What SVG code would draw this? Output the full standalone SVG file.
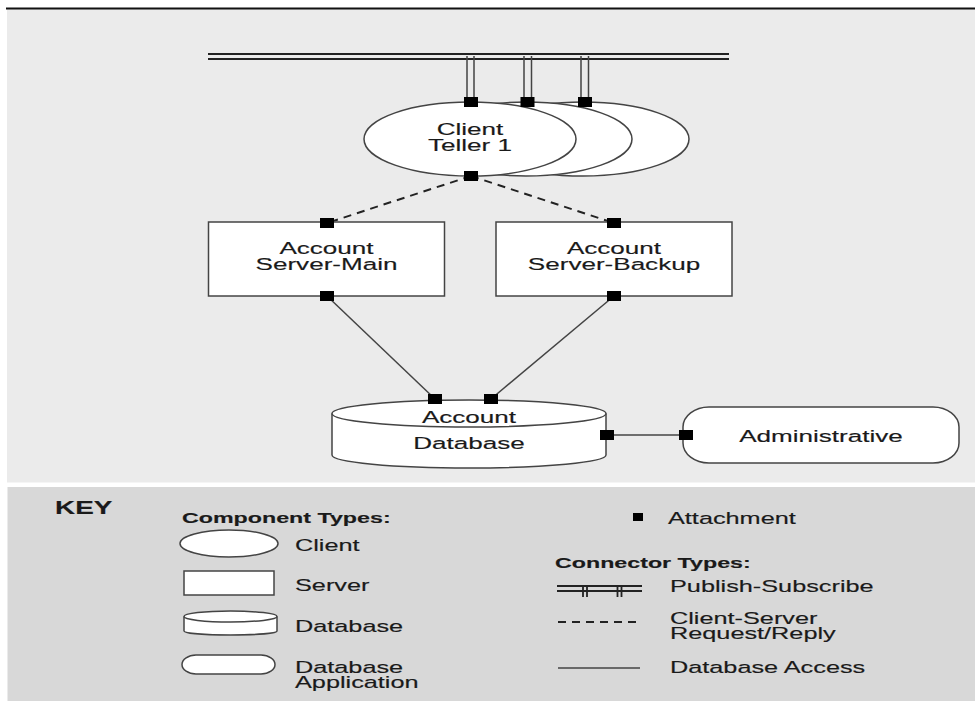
<svg xmlns="http://www.w3.org/2000/svg" width="975" height="701" viewBox="0 0 975 701">
<style>
.t{font-family:"Liberation Sans",Arial,Helvetica,sans-serif;font-size:16.5px;fill:#1a1a1a;stroke:#1a1a1a;stroke-width:0.15}
.c{text-anchor:middle}
.k{font-size:16px}
.b{font-weight:bold;font-size:15px}
.shape{fill:#fff;stroke:#444;stroke-width:1.5}
.cs{stroke:#222;stroke-width:2;stroke-dasharray:8 6;fill:none}
.da{stroke:#444;stroke-width:1.5;fill:none}
.ps{stroke:#222;stroke-width:1.8;fill:none}
.pv{stroke:#444;stroke-width:1.5;fill:none}
.tk{stroke:#222;stroke-width:1.8;fill:none}
</style>
<defs>
<rect id="att" x="-7" y="-5" width="14" height="10" fill="#000"/>
</defs>
<rect x="0" y="0" width="975" height="701" fill="#fff"/>
<rect x="7" y="9" width="968" height="473.5" fill="#ebebeb"/>
<line x1="6" y1="8.5" x2="975" y2="8.5" stroke="#111" stroke-width="2"/>
<rect x="7.5" y="487" width="967.5" height="214" fill="#d8d8d8"/>

<g id="connectors">
<line class="ps" x1="208" y1="54" x2="729" y2="54"/>
<line class="ps" x1="208" y1="59" x2="729" y2="59"/>
<path class="pv" d="M467,56V97M474,56V97M524,56V97M531.5,56V97M581,56V97M588.5,56V97"/>
<line class="cs" x1="471" y1="176" x2="327" y2="223"/>
<line class="cs" x1="471" y1="176" x2="614" y2="223"/>
<line class="da" x1="327" y1="296" x2="435" y2="399"/>
<line class="da" x1="614" y1="296" x2="491" y2="399"/>
<line class="da" x1="607" y1="435" x2="686" y2="435"/>
</g>

<g id="client3"><ellipse class="shape" cx="583" cy="139" rx="106" ry="37"/></g>
<g id="client2"><ellipse class="shape" cx="526" cy="139" rx="106" ry="37"/></g>
<g id="client1">
<ellipse class="shape" cx="470" cy="139" rx="106" ry="37"/>
<text class="t c" transform="matrix(1.58 0 0 1 470 135)">Client</text>
<text class="t c" transform="matrix(1.58 0 0 1 470 151)">Teller 1</text>
</g>

<g id="server-main">
<rect class="shape" x="208.5" y="222" width="236" height="74"/>
<text class="t c" transform="matrix(1.58 0 0 1 326.5 254)">Account</text>
<text class="t c" transform="matrix(1.58 0 0 1 326.5 270)">Server-Main</text>
</g>
<g id="server-backup">
<rect class="shape" x="496" y="222" width="236" height="74"/>
<text class="t c" transform="matrix(1.58 0 0 1 614 254)">Account</text>
<text class="t c" transform="matrix(1.58 0 0 1 614 270)">Server-Backup</text>
</g>

<g id="database">
<path class="shape" d="M332,413.5V455A137,13 0 0 0 606,455V413.5"/>
<ellipse class="shape" cx="469" cy="413.5" rx="137" ry="13.5"/>
<text class="t c" transform="matrix(1.58 0 0 1 469 423)">Account</text>
<text class="t c" transform="matrix(1.58 0 0 1 469 449)">Database</text>
</g>

<g id="administrative">
<rect class="shape" x="683" y="407" width="276" height="56" rx="26" ry="20"/>
<text class="t c" transform="matrix(1.58 0 0 1 821 442)">Administrative</text>
</g>

<g id="attachments">
<use href="#att" x="471" y="102"/>
<use href="#att" x="527.5" y="102"/>
<use href="#att" x="585" y="102"/>
<use href="#att" x="471" y="176"/>
<use href="#att" x="327" y="223"/>
<use href="#att" x="327" y="296"/>
<use href="#att" x="614" y="223"/>
<use href="#att" x="614" y="296"/>
<use href="#att" x="435" y="399"/>
<use href="#att" x="491" y="399"/>
<use href="#att" x="607" y="435"/>
<use href="#att" x="686" y="435"/>
</g>

<g id="key">
<text class="t" style="font-weight:bold;font-size:18px" transform="matrix(1.55 0 0 1 55 514)">KEY</text>
<text class="t b" transform="matrix(1.55 0 0 1 182 523)">Component Types:</text>
<ellipse class="shape" cx="229" cy="543.5" rx="49" ry="13.5"/>
<text class="t k" transform="matrix(1.58 0 0 1 295 551)">Client</text>
<rect class="shape" x="184" y="571" width="90" height="24"/>
<text class="t k" transform="matrix(1.58 0 0 1 295 591)">Server</text>
<path class="shape" d="M184,616.5V631A46.5,4 0 0 0 277,631V616.5"/>
<ellipse class="shape" cx="230.5" cy="616.5" rx="46.5" ry="5.5"/>
<text class="t k" transform="matrix(1.58 0 0 1 295 632)">Database</text>
<rect class="shape" x="182" y="655" width="93" height="19" rx="14" ry="9.5"/>
<text class="t k" transform="matrix(1.58 0 0 1 295 673)">Database</text>
<text class="t k" transform="matrix(1.58 0 0 1 295 688)">Application</text>

<rect x="633" y="513" width="10" height="8" fill="#000"/>
<text class="t k" transform="matrix(1.58 0 0 1 668 524)">Attachment</text>
<text class="t b" transform="matrix(1.55 0 0 1 555 568)">Connector Types:</text>
<line class="ps" x1="557" y1="586" x2="642" y2="586"/>
<line class="ps" x1="557" y1="591" x2="642" y2="591"/>
<path class="tk" d="M583,586V597M587,586V597M617.5,586V597M621.5,586V597"/>
<text class="t k" transform="matrix(1.58 0 0 1 670 592)">Publish-Subscribe</text>
<line class="cs" x1="558" y1="622" x2="641" y2="622"/>
<text class="t k" transform="matrix(1.58 0 0 1 670 624)">Client-Server</text>
<text class="t k" transform="matrix(1.58 0 0 1 670 639)">Request/Reply</text>
<line class="da" x1="558" y1="668" x2="640" y2="668"/>
<text class="t k" transform="matrix(1.58 0 0 1 670 673)">Database Access</text>
</g>
</svg>
